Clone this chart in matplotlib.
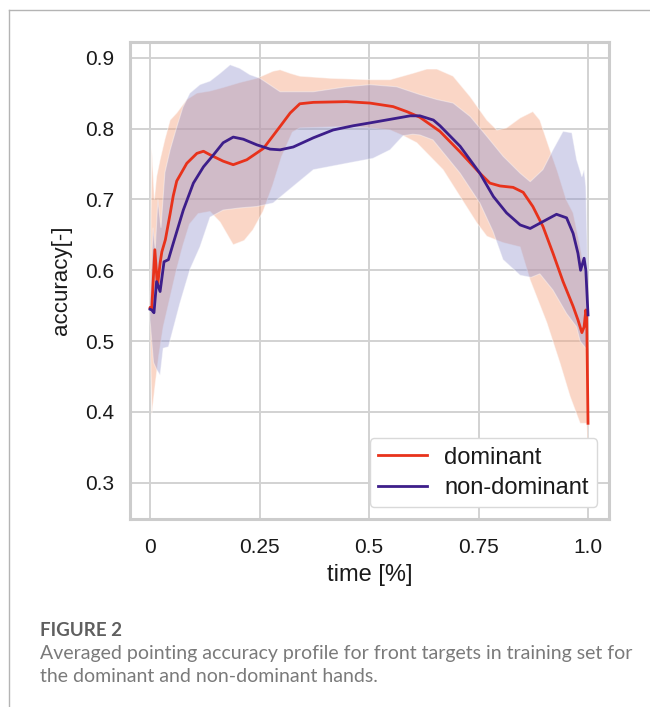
import matplotlib
matplotlib.use("Agg")
from matplotlib import pyplot as plt
from matplotlib.lines import Line2D
import numpy as np

# mean curves
t_dom = [0.0, 0.004, 0.011, 0.017, 0.023, 0.027, 0.035, 0.046, 0.053, 0.061, 0.084, 0.107, 0.122,
         0.137, 0.167, 0.19, 0.221, 0.259, 0.297, 0.32, 0.342, 0.373, 0.449, 0.502, 0.555, 0.586,
         0.616, 0.662, 0.708, 0.753, 0.776, 0.799, 0.829, 0.852, 0.874, 0.897, 0.92, 0.943, 0.966,
         0.977, 0.986, 0.991, 0.995, 0.997, 1.0]
acc_dom = [0.547, 0.546, 0.629, 0.577, 0.61, 0.626, 0.643, 0.68, 0.705, 0.726, 0.751, 0.765, 0.768,
           0.763, 0.754, 0.749, 0.756, 0.772, 0.803, 0.822, 0.835, 0.837, 0.838, 0.836, 0.831, 0.824,
           0.816, 0.796, 0.767, 0.737, 0.723, 0.719, 0.717, 0.710, 0.690, 0.662, 0.624, 0.584, 0.549,
           0.530, 0.512, 0.52, 0.544, 0.537, 0.384]

t_nd = [0.0, 0.004, 0.009, 0.015, 0.023, 0.032, 0.042, 0.053, 0.076, 0.099, 0.122, 0.145, 0.167,
        0.19, 0.213, 0.244, 0.274, 0.297, 0.327, 0.373, 0.418, 0.464, 0.502, 0.548, 0.594, 0.616,
        0.647, 0.662, 0.708, 0.753, 0.784, 0.814, 0.845, 0.868, 0.898, 0.928, 0.951, 0.966, 0.977,
        0.983, 0.991, 0.995, 1.0]
acc_nd = [0.545, 0.544, 0.540, 0.584, 0.570, 0.612, 0.615, 0.638, 0.685, 0.723, 0.746, 0.763, 0.780,
          0.788, 0.785, 0.777, 0.771, 0.770, 0.774, 0.787, 0.798, 0.804, 0.808, 0.813, 0.818, 0.818,
          0.812, 0.804, 0.775, 0.737, 0.704, 0.681, 0.664, 0.659, 0.669, 0.679, 0.674, 0.652, 0.624,
          0.60, 0.617, 0.60, 0.537]

# spread bands
t_dom_hi = [0.0, 0.004, 0.01, 0.015, 0.023, 0.034, 0.046, 0.061, 0.084, 0.107, 0.137, 0.167, 0.205,
            0.244, 0.281, 0.297, 0.32, 0.342, 0.411, 0.502, 0.548, 0.60, 0.632, 0.655, 0.692, 0.731,
            0.769, 0.792, 0.814, 0.845, 0.874, 0.89, 0.913, 0.93, 0.95, 0.966, 0.982, 0.995, 1.0]
dom_hi = [0.56, 0.772, 0.70, 0.732, 0.756, 0.785, 0.812, 0.822, 0.841, 0.850, 0.853, 0.858, 0.865,
          0.871, 0.881, 0.883, 0.878, 0.874, 0.871, 0.869, 0.869, 0.878, 0.884, 0.884, 0.874, 0.845,
          0.812, 0.798, 0.801, 0.815, 0.824, 0.812, 0.770, 0.74, 0.70, 0.681, 0.633, 0.59, 0.44]
t_dom_lo = [0.0, 0.004, 0.012, 0.02, 0.03, 0.045, 0.06, 0.075, 0.09, 0.11, 0.137, 0.16, 0.19, 0.215,
            0.235, 0.258, 0.28, 0.30, 0.325, 0.342, 0.45, 0.50, 0.548, 0.578, 0.609, 0.669, 0.708,
            0.746, 0.769, 0.806, 0.845, 0.868, 0.906, 0.936, 0.959, 0.982, 0.997, 1.0]
dom_lo = [0.53, 0.396, 0.44, 0.48, 0.52, 0.56, 0.60, 0.635, 0.665, 0.68, 0.683, 0.668, 0.636, 0.642,
          0.657, 0.683, 0.72, 0.76, 0.795, 0.801, 0.803, 0.801, 0.798, 0.790, 0.78, 0.742, 0.704,
          0.667, 0.648, 0.639, 0.633, 0.586, 0.526, 0.469, 0.422, 0.384, 0.384, 0.33]

t_nd_hi = [0.0, 0.007, 0.012, 0.018, 0.025, 0.034, 0.046, 0.06, 0.075, 0.091, 0.114, 0.137, 0.16,
           0.183, 0.205, 0.228, 0.251, 0.297, 0.373, 0.449, 0.502, 0.563, 0.616, 0.655, 0.692, 0.731,
           0.769, 0.806, 0.845, 0.868, 0.897, 0.92, 0.943, 0.963, 0.974, 0.986, 0.991, 0.995, 1.0]
nd_hi = [0.56, 0.66, 0.63, 0.70, 0.66, 0.738, 0.77, 0.80, 0.83, 0.850, 0.862, 0.867, 0.878, 0.890,
         0.885, 0.876, 0.871, 0.852, 0.852, 0.859, 0.862, 0.859, 0.848, 0.841, 0.836, 0.817, 0.789,
         0.761, 0.737, 0.725, 0.742, 0.770, 0.796, 0.794, 0.756, 0.732, 0.742, 0.718, 0.58]
t_nd_lo = [0.0, 0.008, 0.015, 0.023, 0.03, 0.042, 0.068, 0.091, 0.114, 0.137, 0.167, 0.205, 0.244,
           0.281, 0.32, 0.373, 0.449, 0.509, 0.548, 0.578, 0.60, 0.616, 0.646, 0.708, 0.753, 0.783,
           0.806, 0.845, 0.87, 0.89, 0.92, 0.951, 0.974, 0.982, 0.995, 1.0]
nd_lo = [0.53, 0.47, 0.46, 0.452, 0.49, 0.492, 0.553, 0.601, 0.633, 0.675, 0.685, 0.688, 0.690,
         0.695, 0.715, 0.742, 0.751, 0.758, 0.770, 0.790, 0.792, 0.791, 0.784, 0.737, 0.695, 0.655,
         0.615, 0.593, 0.59, 0.595, 0.572, 0.539, 0.52, 0.50, 0.49, 0.49]

x_ticks = [0, 0.25, 0.5, 0.75, 1.0]
x_ticklabels = ["0", "0.25", "0.5", "0.75", "1.0"]
y_ticks = [0.3, 0.4, 0.5, 0.6, 0.7, 0.8, 0.9]

RED = "#e8321b"
PURPLE = "#3d1e8a"

plt.rcParams["font.family"] = ["Liberation Sans", "DejaVu Sans"]

fig = plt.figure(figsize=(6.5, 7.07), dpi=100)
ax = fig.add_axes([0.2, 0.266, 0.737, 0.675])


def band(ax, t_hi, hi, t_lo, lo, color, alpha):
    xs = np.concatenate([t_hi, t_lo[::-1]])
    ys = np.concatenate([hi, lo[::-1]])
    ax.fill(xs, ys, color=color, alpha=alpha, lw=0.8, ec=(1, 1, 1, 0.35), zorder=2)


band(ax, t_dom_hi, dom_hi, t_dom_lo, dom_lo, "#f4a582", 0.45)
band(ax, t_nd_hi, nd_hi, t_nd_lo, nd_lo, "#8e8fcc", 0.38)

ax.plot(t_dom, acc_dom, color=RED, lw=2.0, zorder=4, solid_joinstyle="round")
ax.plot(t_nd, acc_nd, color=PURPLE, lw=2.0, zorder=4, solid_joinstyle="round")

ax.set_xlim(-0.0457, 1.048)
ax.set_ylim(0.249, 0.9226)
ax.set_xticks(x_ticks)
ax.set_xticklabels(x_ticklabels)
ax.set_yticks(y_ticks)
ax.tick_params(length=0, labelsize=15, colors="#1a1a1a")
ax.tick_params(axis="x", pad=13.5)
ax.tick_params(axis="y", pad=11)
ax.grid(True, color="#d2d2d2", lw=1.4, zorder=0)
ax.set_axisbelow(True)
for s in ax.spines.values():
    s.set_color("#cccccc")
    s.set_linewidth(2.2)

ax.set_xlabel("time [%]", fontsize=17, color="#1a1a1a", labelpad=5)
ax.set_ylabel("accuracy[-]", fontsize=16, color="#1a1a1a", labelpad=10)

handles = [Line2D([], [], color=RED, lw=2.0), Line2D([], [], color=PURPLE, lw=2.0)]
leg = ax.legend(handles, ["dominant", "non-dominant"], loc="lower right", fontsize=17,
                frameon=True, fancybox=True, handlelength=2.1, handletextpad=0.72,
                borderaxespad=0.5, labelspacing=0.35, borderpad=0.35)
leg.get_frame().set_edgecolor("#d9d9d9")
leg.get_frame().set_linewidth(1.0)
leg.get_frame().set_alpha(1.0)
for txt in leg.get_texts():
    txt.set_color("#1a1a1a")

# page frame lines
fig.add_artist(Line2D([9 / 650, 1.0], [1 - 10 / 707, 1 - 10 / 707], color="#b4b4b4", lw=1.0))
fig.add_artist(Line2D([9 / 650, 9 / 650], [0.0, 1 - 10 / 707], color="#b4b4b4", lw=1.0))

fig.text(40 / 650, 1 - 630 / 707, "FIGURE 2", fontsize=13.5, color="#5f5f5f", va="center",
         family=["Lato", "DejaVu Sans"], weight="bold")
fig.text(40 / 650, 1 - 653 / 707,
         "Averaged pointing accuracy profile for front targets in training set for",
         fontsize=14, color="#7a7a7a", va="center", family=["Lato", "DejaVu Sans"])
fig.text(40 / 650, 1 - 677 / 707, "the dominant and non-dominant hands.",
         fontsize=14, color="#7a7a7a", va="center", family=["Lato", "DejaVu Sans"])

fig.savefig("out.png", dpi=100)
